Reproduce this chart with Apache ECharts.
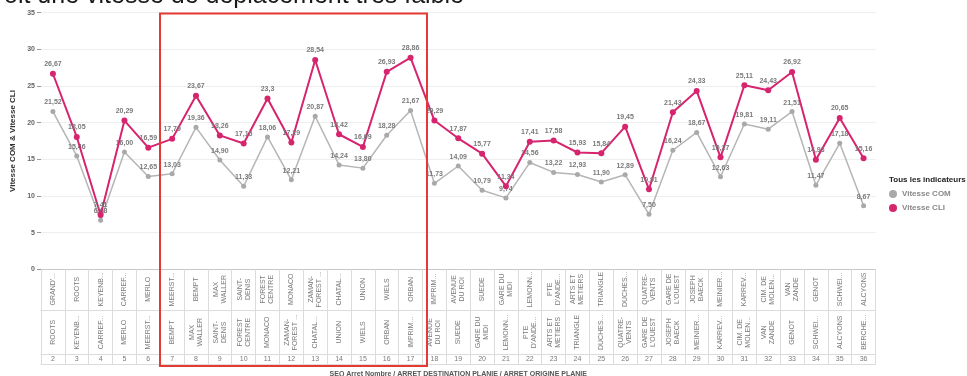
<!DOCTYPE html>
<html>
<head>
<meta charset="utf-8">
<script src="https://cdn.jsdelivr.net/npm/echarts@6/dist/echarts.min.js"></script>
<style>
  html, body { margin: 0; padding: 0; background: #fff; }
  #main { width: 967px; height: 376px; }
</style>
</head>
<body>
<div id="main"></div>
<script>
var seqNums = ['2', '3', '4', '5', '6', '7', '8', '9', '10', '11', '12', '13', '14', '15', '16', '17', '18', '19',
  '20', '21', '22', '23', '24', '25', '26', '27', '28', '29', '30', '31', '32', '33', '34', '35', '36'];
var arretDest = ['GRAND\'...', 'ROOTS', 'KEYENB...', 'CARREF...', 'MERLO', 'MEERST...', 'BEMPT', 'MAX\nWALLER',
  'SAINT-\nDENIS', 'FOREST\nCENTRE', 'MONACO', 'ZAMAN-\nFOREST ...', 'CHATAL...', 'UNION', 'WIELS', 'ORBAN',
  'IMPRIM...', 'AVENUE\nDU ROI', 'SUEDE', 'GARE DU\nMIDI', 'LEMONN...', 'PTE\nD\'ANDE...', 'ARTS ET\nMETIERS',
  'TRIANGLE', 'DUCHES...', 'QUATRE-\nVENTS', 'GARE DE\nL\'OUEST', 'JOSEPH\nBAECK', 'MEINIER...', 'KARREV...',
  'CIM. DE\nMOLEN...', 'VAN\nZANDE', 'GENOT', 'SCHWEI...', 'ALCYONS'];
var arretOrig = ['ROOTS', 'KEYENB...', 'CARREF...', 'MERLO', 'MEERST...', 'BEMPT', 'MAX\nWALLER', 'SAINT-\nDENIS',
  'FOREST\nCENTRE', 'MONACO', 'ZAMAN-\nFOREST ...', 'CHATAL...', 'UNION', 'WIELS', 'ORBAN', 'IMPRIM...',
  'AVENUE\nDU ROI', 'SUEDE', 'GARE DU\nMIDI', 'LEMONN...', 'PTE\nD\'ANDE...', 'ARTS ET\nMETIERS', 'TRIANGLE',
  'DUCHES...', 'QUATRE-\nVENTS', 'GARE DE\nL\'OUEST', 'JOSEPH\nBAECK', 'MEINIER...', 'KARREV...', 'CIM. DE\nMOLEN...',
  'VAN\nZANDE', 'GENOT', 'SCHWEI...', 'ALCYONS', 'BERCHE...'];
var vitesseCom = [21.52, 15.46, 6.68, 16.00, 12.65, 13.03, 19.36, 14.90, 11.33, 18.06, 12.21, 20.87, 14.24, 13.80,
  18.28, 21.67, 11.73, 14.09, 10.79, 9.74, 14.56, 13.22, 12.93, 11.90, 12.89, 7.50, 16.24, 18.67, 12.63, 19.81,
  19.11, 21.51, 11.47, 17.18, 8.67];
var vitesseCli = [26.67, 18.05, 7.41, 20.29, 16.59, 17.79, 23.67, 18.26, 17.15, 23.3, 17.29, 28.54, 18.42, 16.69,
  26.93, 28.86, 20.29, 17.87, 15.77, 11.34, 17.41, 17.58, 15.93, 15.84, 19.45, 10.91, 21.43, 24.33, 15.27, 25.11,
  24.43, 26.92, 14.93, 20.65, 15.16];
var yTicks = { min: 0, max: 35, step: 5 };

var FONT = '"Liberation Sans", Arial, sans-serif';
var chart = echarts.init(document.getElementById('main'));

function tableAxis(data, offset, tickLen, margin, rotate) {
  return {
    type: 'category',
    data: data,
    position: 'bottom',
    offset: offset,
    boundaryGap: true,
    axisLine: { show: true, lineStyle: { color: '#dcdcdc', width: 1 } },
    axisTick: { show: true, length: tickLen, interval: 0, lineStyle: { color: '#dcdcdc' } },
    axisLabel: {
      interval: 0,
      rotate: rotate,
      align: 'center',
      verticalAlign: 'middle',
      margin: margin,
      fontSize: 7,
      lineHeight: 8,
      color: '#7a7a7a',
      fontFamily: FONT
    }
  };
}

var fmt = function (digits) {
  return function (p) {
    var s = digits ? p.value.toFixed(digits) : String(p.value);
    return s.replace('.', ',');
  };
};

var xAxes = [
  tableAxis(arretDest, 0, 41, 20, 90),
  tableAxis(arretOrig, 41, 44, 22, 90),
  tableAxis(seqNums, 85, 10, 5, 0),
  {
    type: 'category',
    data: seqNums,
    position: 'bottom',
    offset: 95,
    axisLine: { show: true, lineStyle: { color: '#dcdcdc' } },
    axisTick: { show: false },
    axisLabel: { show: false },
    name: 'SEQ Arret Nombre / ARRET DESTINATION PLANIE / ARRET ORIGINE PLANIE',
    nameLocation: 'middle',
    nameGap: 6,
    nameTextStyle: { fontSize: 7, fontWeight: 'bold', color: '#555', fontFamily: FONT }
  }
];
xAxes[0].axisLine.lineStyle.color = '#c8c8c8';

var option = {
  animation: false,
  backgroundColor: '#fff',
  textStyle: { fontFamily: FONT },
  title: [
    {
      text: 'oit une vitesse de déplacement très faible',
      left: -1,
      top: -21,
      textStyle: { fontSize: 25, fontWeight: 'normal', color: '#1a1a1a', fontFamily: FONT }
    },
    {
      text: 'Tous les indicateurs',
      left: 889,
      top: 176,
      padding: 0,
      textStyle: { fontSize: 8, fontWeight: 'bold', color: '#222', fontFamily: FONT }
    }
  ],
  legend: {
    orient: 'vertical',
    left: 889,
    top: 190,
    padding: 0,
    itemWidth: 8,
    itemHeight: 8,
    itemGap: 6,
    icon: 'circle',
    textStyle: { fontSize: 8, fontWeight: 'bold', color: '#888', fontFamily: FONT },
    data: ['Vitesse COM', 'Vitesse CLI']
  },
  grid: { left: 41, right: 91.5, top: 12.7, bottom: 106.7, containLabel: false, outerBoundsMode: 'none' },
  xAxis: xAxes,
  yAxis: {
    type: 'value',
    min: yTicks.min,
    max: yTicks.max,
    interval: yTicks.step,
    name: 'Vitesse COM & Vitesse CLI',
    nameLocation: 'middle',
    nameGap: 24,
    nameTextStyle: { fontSize: 8, fontWeight: 'bold', color: '#333', fontFamily: FONT },
    axisLine: { show: false },
    axisTick: { show: true, length: 4, lineStyle: { color: '#999' } },
    axisLabel: { fontSize: 7, fontWeight: 'bold', color: '#666', margin: 6 },
    splitLine: { lineStyle: { color: '#eeeeee' } }
  },
  series: [
    {
      name: 'Vitesse COM',
      type: 'line',
      data: vitesseCom,
      color: '#a9a9a9',
      symbol: 'circle',
      symbolSize: 5,
      lineStyle: { width: 1.5, color: '#b5b5b5' },
      label: {
        show: true, position: 'top', distance: 3, formatter: fmt(2),
        fontSize: 7, fontWeight: 'bold', color: '#7a7a7a'
      },
      z: 2
    },
    {
      name: 'Vitesse CLI',
      type: 'line',
      data: vitesseCli,
      color: '#d6246e',
      symbol: 'circle',
      symbolSize: 6,
      lineStyle: { width: 2, color: '#d6246e' },
      label: {
        show: true, position: 'top', distance: 3, formatter: fmt(0),
        fontSize: 7, fontWeight: 'bold', color: '#7a7a7a'
      },
      z: 3
    }
  ],
  graphic: [
    {
      type: 'rect',
      shape: { x: 160, y: 13.5, width: 267, height: 352.5 },
      style: { fill: 'none', stroke: '#e53935', lineWidth: 2 },
      z: 100
    }
  ]
};

chart.setOption(option);
</script>
</body>
</html>
